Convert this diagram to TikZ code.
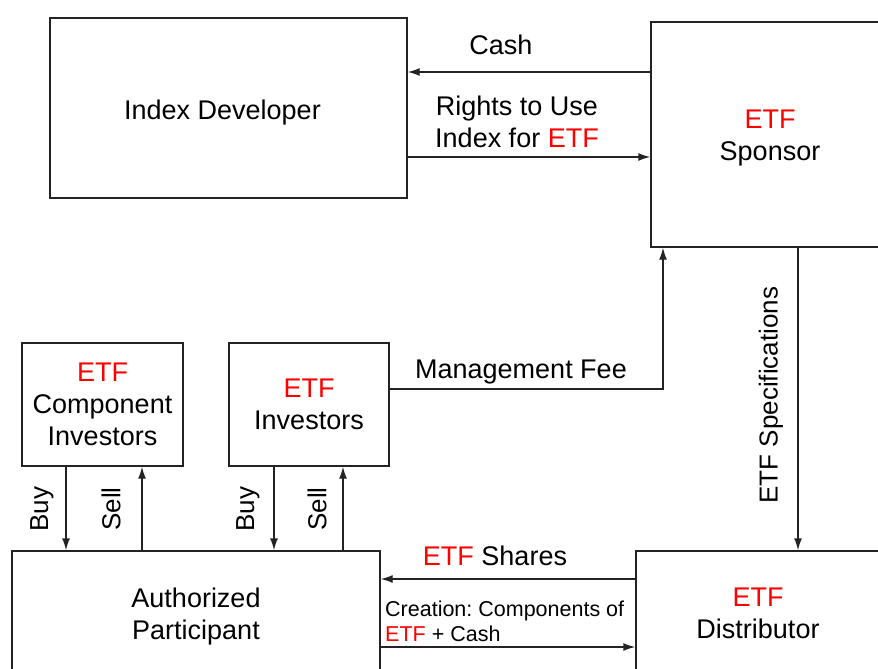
\documentclass[tikz,border=0pt]{standalone}
\usepackage{fontspec}
\setmainfont{Liberation Sans}
\usetikzlibrary{arrows.meta,calc}
\definecolor{etfred}{RGB}{255,0,0}
\definecolor{linegray}{RGB}{35,35,35}
\newcommand{\etf}{\textcolor{etfred}{ETF}}
\frenchspacing

\begin{document}
\begin{tikzpicture}[x=1pt,y=-1pt,
  box/.style={draw=linegray, line width=1.4pt, rectangle, inner sep=0pt, align=center,
              font=\fontsize{27}{32}\selectfont},
  arr/.style={draw=linegray, line width=1.4pt, -{Latex[length=12pt,width=8pt]}},
  lbl/.style={font=\fontsize{27}{32}\selectfont, align=center, inner sep=0pt},
  small/.style={font=\fontsize{21.5}{25}\selectfont, align=left, inner sep=0pt},
  vlbl/.style={font=\fontsize{26}{30}\selectfont, rotate=90, inner sep=0pt}]
\useasboundingbox (0,0) rectangle (878,669);
\begin{scope}
\clip (0,0) rectangle (878,669);

% boxes
\node[box, minimum width=357pt, minimum height=180pt] (idx)  at (228.5,108) {};
\node[box, minimum width=238pt, minimum height=225pt] (spon) at (770,134.5) {};
\node[box, minimum width=161pt, minimum height=123pt] (comp) at (102.5,404.5) {\etf\\Component\\Investors};
\node[box, minimum width=160pt, minimum height=123pt] (inv)  at (309,404.5) {\etf\\Investors};
\node[box, minimum width=368pt, minimum height=126pt] (ap)   at (196,614) {};
\node[box, minimum width=244pt, minimum height=124pt] (dist) at (758,613) {\etf\\Distributor};

% box titles
\node[lbl] (idxtxt)  at ($(idx.center)+(-6,5)$)  {Index Developer};
\node[lbl] (spontxt) at ($(spon.center)+(0,4)$)  {\etf\\Sponsor};
\node[lbl] (aptxt)   at ($(ap.center)+(0,3)$)    {Authorized\\Participant};

% helper coordinates for connector positions
\coordinate (cashy)   at (0,72);
\coordinate (rightsy) at (0,157);
\coordinate (feey)    at (0,389);
\coordinate (feex)    at (663,0);
\coordinate (specx)   at (798,0);
\coordinate (buyA)    at (66,0);
\coordinate (sellA)   at (142,0);
\coordinate (buyB)    at (274,0);
\coordinate (sellB)   at (343,0);
\coordinate (sharesy) at (0,579);
\coordinate (creaty)  at (0,647);

% connectors
\draw[arr] (spon.west |- cashy) -- (idx.east |- cashy);
\draw[arr] (idx.east |- rightsy) -- (spon.west |- rightsy);
\draw[arr] (inv.east |- feey) -| (spon.south -| feex);
\draw[arr] (spon.south -| specx) -- (dist.north -| specx);
\draw[arr] (comp.south -| buyA) -- (ap.north -| buyA);
\draw[arr] (ap.north -| sellA) -- (comp.south -| sellA);
\draw[arr] (inv.south -| buyB) -- (ap.north -| buyB);
\draw[arr] (ap.north -| sellB) -- (inv.south -| sellB);
\draw[arr] (dist.west |- sharesy) -- (ap.east |- sharesy);
\draw[arr] (ap.east |- creaty) -- (dist.west |- creaty);

% labels
\node[lbl] (lcash)   at (501,45)  {Cash};
\node[lbl] (lrights) at (517,122) {Rights to Use\\Index for \etf};
\node[lbl] (lfee)    at (521,372) {Management Fee};
\node[vlbl] (lspec)  at (771,395) {ETF Specifications};
\node[vlbl] (lbuyA)  at (42,509)  {Buy};
\node[vlbl] (lsellA) at (111,509) {Sell};
\node[vlbl] (lbuyB)  at (248,509) {Buy};
\node[vlbl] (lsellB) at (317,509) {Sell};
\node[lbl] (lshares) at (495,556) {\etf{} Shares};
\node[small, anchor=west] (lcreat) at (385,621) {Creation: Components of\\\etf{} + Cash};
\end{scope}
\end{tikzpicture}
\end{document}
